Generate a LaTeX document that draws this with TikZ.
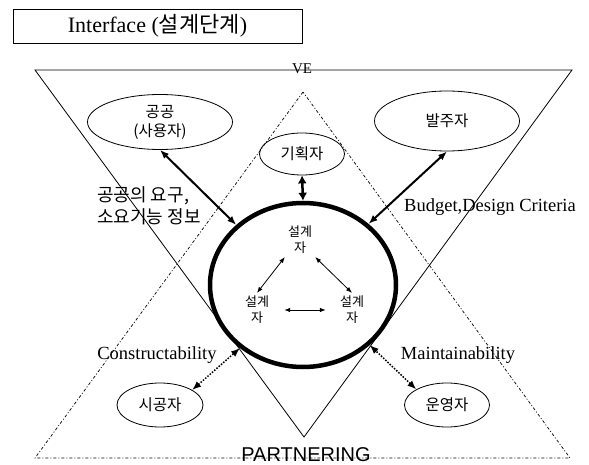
\documentclass[tikz,border=0pt]{standalone}
\usepackage{fontspec}
\setmainfont{Liberation Serif}
\newfontfamily\kr{Noto Sans CJK KR}
\newfontfamily\arl{Liberation Sans}
\usetikzlibrary{shapes.geometric,arrows.meta}
\begin{document}
\begin{tikzpicture}[x=1pt,y=-1pt,
  tri/.style={line width=0.8pt},
  dashdot/.style={line width=0.7pt,dash pattern=on 3pt off 2pt on 1pt off 2pt},
  ell/.style={draw,ellipse,line width=0.8pt,inner sep=0pt,font=\kr\fontsize{15.5}{19}\selectfont,align=center},
  tipA/.tip={Latex[length=9pt,width=7pt]},
  thickarr/.style={line width=2pt,tipA-tipA},
  planarr/.style={line width=2.5pt,{Latex[length=8pt,width=9pt]}-{Latex[length=8pt,width=9pt]}},
  dotarr/.style={line width=1.5pt,dash pattern=on 1.5pt off 1.5pt,tipA-tipA},
  inarr/.style={line width=0.8pt,{Latex[length=6pt,width=4.5pt]}-{Latex[length=6pt,width=4.5pt]}},
  dsg/.style={inner sep=3pt,align=center,font=\kr\fontsize{13}{16}\selectfont},
  lab/.style={inner sep=0pt,font=\fontsize{18.5}{22}\selectfont}
]
\useasboundingbox (0,0) rectangle (589,465);

% title
\node[draw,line width=0.8pt,minimum width=289pt,minimum height=34pt,inner sep=0pt,
      font=\fontsize{22}{26}\selectfont] (title) at (157.5,26) {Interface ({\kr 설계단계})};

% VE inverted triangle
\coordinate (VL) at (35,70);
\coordinate (VR) at (572,70);
\coordinate (VB) at (304,437);
\draw[tri] (VL) -- (VR) -- (VB) -- cycle;
\node[inner sep=0pt,font=\fontsize{15}{18}\selectfont] (ve) at (302,69) {VE};

% PARTNERING triangle
\coordinate (PT) at (303,92);
\coordinate (PL) at (35,458);
\coordinate (PR) at (570,458);
\draw[dashdot] (PT) -- (PL) -- (PR) -- cycle;
\node[inner sep=0pt,font=\arl\fontsize{20}{24}\selectfont] (pn) at (306,455) {PARTNERING};

% central circle
\node[draw,ellipse,line width=4.5pt,minimum width=186pt,minimum height=164pt,inner sep=0pt] (circ) at (303,285) {};

% ellipses
\node[ell,minimum width=145pt,minimum height=55pt] (pub) at (160,122) {공공\\(사용자)};
\node[ell,minimum width=145pt,minimum height=60pt] (own) at (447,121) {발주자};
\node[ell,minimum width=85pt,minimum height=42pt] (plan) at (302,154) {기획자};
\node[ell,minimum width=86pt,minimum height=44pt] (con) at (160,405) {시공자};
\node[ell,minimum width=85pt,minimum height=44pt] (op) at (447,405) {운영자};

% designers
\node[dsg] (d1) at (300,240) {설계\\자};
\node[dsg] (d2) at (257,310) {설계\\자};
\node[dsg] (d3) at (352,310) {설계\\자};
\draw[inarr] (d1.south west) -- (d2.north);
\draw[inarr] (d1.south east) -- (d3.north);
\draw[inarr,shorten <=12pt,shorten >=11pt] (d2.east) -- (d3.west);

% connectors
\draw[thickarr] (pub.south) -- (circ.138);
\draw[thickarr] (own.south) -- (circ.43);
\draw[planarr] (plan.south) -- (circ.north);
\draw[dotarr] (con.25) -- (circ.225);
\draw[dotarr] (op.153) -- (circ.318);

% labels
\node[anchor=west,align=left,inner sep=0pt,font=\kr\fontsize{18}{22}\selectfont] (need) at (97,206) {공공의 요구,\\소요기능 정보};
\node[lab] (bud) at (490,207) {Budget,Design Criteria};
\node[lab] (cst) at (157,355) {Constructability};
\node[lab] (mnt) at (458,355) {Maintainability};
\end{tikzpicture}
\end{document}
